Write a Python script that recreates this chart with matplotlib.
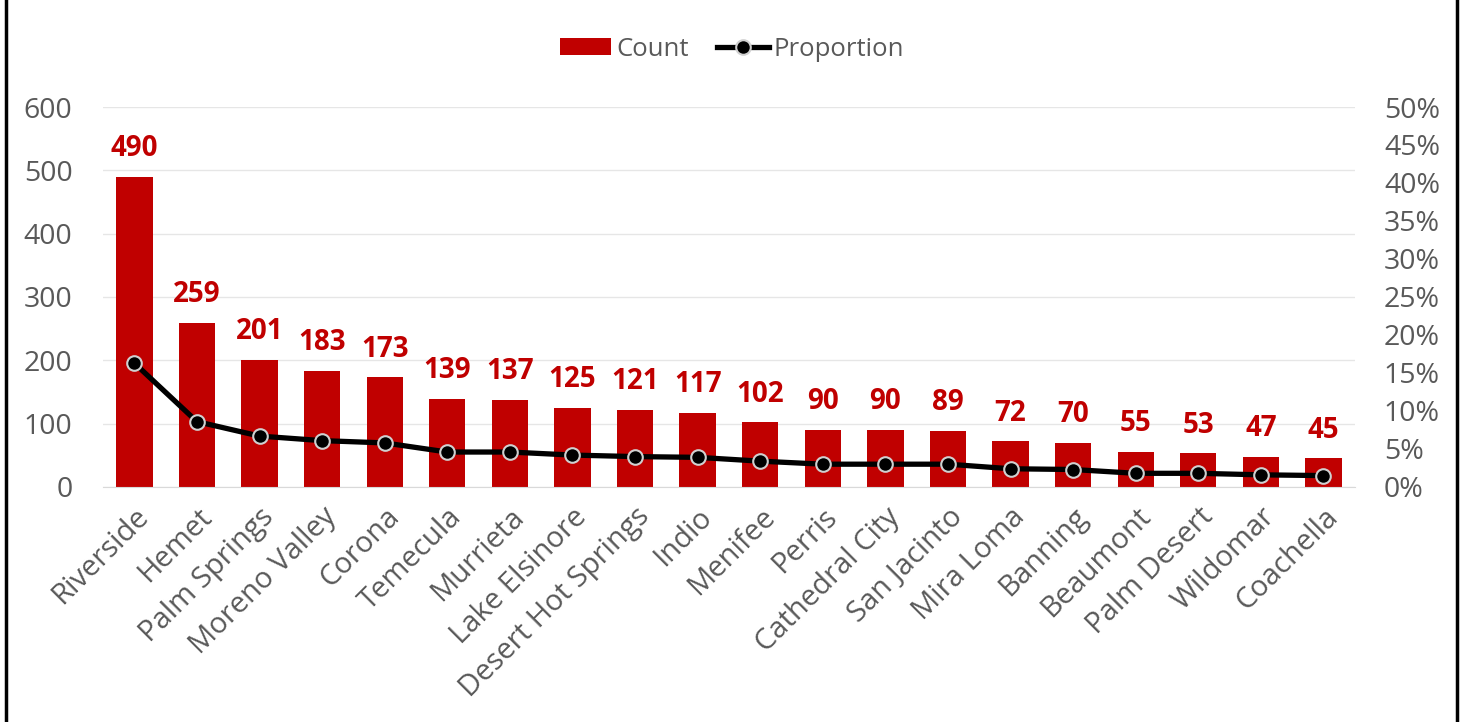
import numpy as np
import matplotlib.pyplot as plt
from matplotlib.lines import Line2D
from matplotlib.ticker import PercentFormatter

plt.rcParams['font.family'] = ['Open Sans', 'DejaVu Sans']

cities = ["Riverside", "Hemet", "Palm Springs", "Moreno Valley", "Corona", "Temecula",
          "Murrieta", "Lake Elsinore", "Desert Hot Springs", "Indio", "Menifee", "Perris",
          "Cathedral City", "San Jacinto", "Mira Loma", "Banning", "Beaumont", "Palm Desert",
          "Wildomar", "Coachella"]
counts = [490, 259, 201, 183, 173, 139, 137, 125, 121, 117, 102, 90, 90, 89, 72, 70, 55, 53, 47, 45]
# proportion (%)
proportion = [16.3, 8.6, 6.7, 6.1, 5.8, 4.6, 4.6, 4.2, 4.0, 3.9, 3.4, 3.0, 3.0, 3.0, 2.4, 2.3, 1.8, 1.8, 1.6, 1.5]

red = "#C00000"
grey = "#595959"

fig = plt.figure(figsize=(14.64, 7.22), dpi=100)
ax = fig.add_axes([0.0704, 0.3255, 0.855, 0.5263])
ax2 = ax.twinx()

x = np.arange(len(cities))
ax.bar(x, counts, width=0.58, color=red, label="Count", zorder=2)
for xi, c in zip(x, counts):
    ax.annotate(str(c), (xi, c), xytext=(0, 10), textcoords="offset points",
                ha="center", va="bottom", color=red, fontsize=20, fontweight="bold")

ax.set_ylim(0, 600)
ax.set_xlim(-0.5, len(cities) - 0.5)
ax.set_yticks(range(0, 601, 100))
ax.yaxis.grid(True, color="#e6e6e6", linewidth=1, zorder=0)
ax.set_axisbelow(True)
ax.set_xticks(x)
ax.set_xticklabels(cities, rotation=45, ha="right", rotation_mode="anchor", fontsize=21, color=grey)
ax.tick_params(axis="y", labelsize=20.5, labelcolor=grey, length=0, pad=22)
ax.tick_params(axis="x", length=0, pad=11)
for s in ["top", "right", "left"]:
    ax.spines[s].set_visible(False)
ax.spines["bottom"].set_color("#d9d9d9")

ax2.plot(x, proportion, color="black", linewidth=3.8, marker="o", markersize=10.5,
         markerfacecolor="black", markeredgecolor="#d0d0d0", markeredgewidth=1.5,
         label="Proportion", zorder=3)
ax2.set_ylim(0, 50)
ax2.set_yticks(range(0, 51, 5))
ax2.yaxis.set_major_formatter(PercentFormatter(decimals=0))
ax2.tick_params(axis="y", labelsize=20.5, labelcolor=grey, length=0, pad=21)
for s in ["top", "right", "left", "bottom"]:
    ax2.spines[s].set_visible(False)

h1, l1 = ax.get_legend_handles_labels()
h2, l2 = ax2.get_legend_handles_labels()
fig.legend(h1 + h2, l1 + l2, loc="center", bbox_to_anchor=(0.5, 0.932), ncol=2,
           frameon=False, fontsize=18.5, labelcolor=grey, handlelength=2.0,
           handleheight=0.6, handletextpad=0.2, columnspacing=1.1)

fig.add_artist(Line2D([6 / 1464, 6 / 1464], [0, 1], color="black", linewidth=2.5))
fig.add_artist(Line2D([1457 / 1464, 1457 / 1464], [0, 1], color="black", linewidth=2.5))

fig.savefig("out.png", dpi=100)
